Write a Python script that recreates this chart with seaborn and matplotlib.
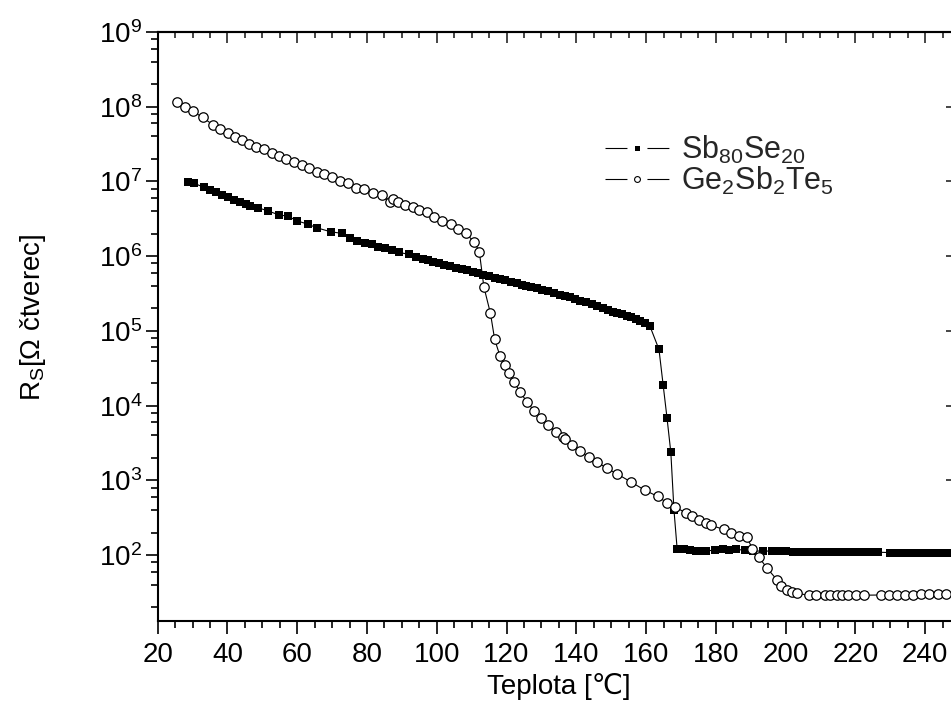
import matplotlib
matplotlib.use('Agg')
import matplotlib.pyplot as plt
import seaborn as sns
import pandas as pd
from matplotlib.ticker import MultipleLocator, LogLocator, NullFormatter
from matplotlib.lines import Line2D

# ---------------- data ----------------
sb_temp = [28.8, 30.5, 33.3, 35.0, 36.6, 38.3, 40.2, 41.9, 43.6, 45.3,
           46.5, 48.8, 51.7, 54.9, 57.4, 59.8, 63.0, 65.6, 69.6, 72.8,
           75.1, 77.2, 79.4, 81.3, 83.2, 85.2, 87.1, 89.3, 91.9, 94.1,
           96.0, 97.5, 99.0, 100.6, 102.2, 103.8, 105.4, 107.1, 108.8, 110.4,
           111.9, 113.3, 115.0, 116.6, 118.0, 119.5, 121.2, 122.9, 124.3, 125.7,
           127.1, 128.6, 130.2, 131.9, 133.6, 135.3, 136.7, 138.1, 139.5, 141.0,
           142.7, 144.4, 146.0, 147.7, 149.1, 150.5, 151.8, 153.0, 154.4, 155.8,
           157.0, 158.2, 159.8, 161.1, 163.7, 164.9, 166.0, 167.1, 168.0, 168.9,
           170.8, 172.5, 174.2, 175.7, 177.3, 179.7, 182.1, 183.8, 185.9, 188.3,
           190.7, 193.5, 196.2, 198.3, 200.2, 202.1, 204.2, 206.1, 208.3, 210.3,
           212.2, 214.4, 216.7, 218.9, 220.8, 222.7, 224.6, 226.5, 229.8, 231.8,
           233.7, 235.6, 237.5, 239.4, 241.5, 243.7, 245.6, 247.6]
sb_rs = [9.73e6, 9.42e6, 8.34e6, 7.67e6, 7.16e6, 6.58e6, 6.12e6, 5.64e6, 5.25e6, 4.98e6,
         4.73e6, 4.45e6, 4.02e6, 3.55e6, 3.44e6, 2.98e6, 2.69e6, 2.40e6, 2.12e6, 2.02e6,
         1.73e6, 1.59e6, 1.51e6, 1.44e6, 1.34e6, 1.27e6, 1.21e6, 1.12e6, 1.06e6, 9.82e5,
         9.23e5, 8.81e5, 8.41e5, 8.04e5, 7.67e5, 7.33e5, 7.03e5, 6.71e5, 6.46e5, 6.18e5,
         5.89e5, 5.58e5, 5.37e5, 5.14e5, 4.95e5, 4.79e5, 4.57e5, 4.33e5, 4.15e5, 3.98e5,
         3.85e5, 3.71e5, 3.55e5, 3.41e5, 3.20e5, 3.01e5, 2.90e5, 2.81e5, 2.66e5, 2.53e5,
         2.40e5, 2.29e5, 2.14e5, 2.00e5, 1.91e5, 1.80e5, 1.74e5, 1.66e5, 1.58e5, 1.52e5,
         1.45e5, 1.36e5, 1.26e5, 1.16e5, 5.65e4, 1.88e4, 6.87e3, 2.36e3, 399, 122,
         119, 116, 114, 114, 114, 116, 122, 116, 119, 116,
         112, 114, 112, 112, 112, 111, 111, 111, 111, 110,
         110, 110, 110, 110, 109, 109, 109, 109, 108, 108,
         108, 108, 107, 107, 107, 107, 107, 107]

ge_temp = [25.6, 27.8, 30.0, 32.9, 35.9, 38.0, 40.1, 42.1, 44.1, 46.2,
           48.3, 50.5, 52.7, 54.8, 56.9, 59.1, 61.3, 63.4, 65.6, 67.6,
           70.0, 72.2, 74.6, 76.8, 79.1, 81.6, 84.2, 86.5, 87.5, 88.9,
           90.9, 93.1, 95.0, 97.1, 99.3, 101.5, 104.0, 106.1, 108.3, 110.7,
           112.2, 113.5, 115.4, 116.6, 118.1, 119.5, 120.7, 122.2, 123.8, 125.9,
           127.9, 130.0, 131.9, 134.1, 136.2, 136.7, 138.9, 141.0, 143.5, 145.8,
           148.9, 151.8, 155.6, 159.6, 163.3, 166.0, 168.2, 171.4, 173.3, 175.2,
           177.1, 178.5, 182.3, 184.3, 186.6, 188.8, 190.5, 192.4, 194.7, 197.5,
           198.7, 200.5, 201.7, 203.4, 206.7, 208.8, 211.2, 212.8, 214.6, 216.3,
           217.9, 220.1, 222.4, 227.4, 229.6, 231.9, 234.1, 236.5, 238.9, 241.1,
           243.7, 245.9]
ge_rs = [1.17e8, 1.00e8, 8.71e7, 7.21e7, 5.69e7, 4.98e7, 4.41e7, 3.98e7, 3.58e7, 3.16e7,
         2.92e7, 2.69e7, 2.38e7, 2.19e7, 1.98e7, 1.80e7, 1.64e7, 1.50e7, 1.35e7, 1.26e7,
         1.14e7, 1.01e7, 9.44e6, 8.09e6, 7.83e6, 7.06e6, 6.58e6, 5.25e6, 5.81e6, 5.35e6,
         4.83e6, 4.50e6, 4.14e6, 3.85e6, 3.37e6, 2.98e6, 2.69e6, 2.29e6, 2.02e6, 1.56e6,
         1.15e6, 3.89e5, 1.71e5, 7.69e4, 4.65e4, 3.48e4, 2.70e4, 2.08e4, 1.53e4, 1.12e4,
         8.51e3, 6.75e3, 5.48e3, 4.46e3, 3.75e3, 3.53e3, 2.96e3, 2.48e3, 2.04e3, 1.77e3,
         1.44e3, 1.21e3, 955, 740, 610, 501, 442, 367, 332, 299,
         270, 251, 220, 198, 179, 175, 122, 92.9, 66.5, 46.8,
         38.0, 33.9, 32.4, 30.6, 29.0, 29.0, 29.0, 29.0, 29.0, 29.0,
         29.0, 29.0, 29.0, 29.2, 29.4, 29.5, 29.5, 29.6, 29.9, 30.1,
         30.2, 30.5]

series_labels = [r'Sb$_{80}$Se$_{20}$', r'Ge$_{2}$Sb$_{2}$Te$_{5}$']
x_label = 'Teplota [℃]'
y_label = r'R$_{S}$[Ω čtverec]'

# ---------------- style ----------------
sns.set_theme(style='ticks')
plt.rcParams['font.family'] = ['Liberation Sans', 'DejaVu Sans']
plt.rcParams['mathtext.fontset'] = 'custom'
plt.rcParams['mathtext.rm'] = 'Liberation Sans'
plt.rcParams['mathtext.it'] = 'Liberation Sans:italic'
plt.rcParams['mathtext.bf'] = 'Liberation Sans:bold'
plt.rcParams['mathtext.default'] = 'regular'
plt.rcParams['lines.scale_dashes'] = False

FS = 20
LFS = 22
fig = plt.figure(figsize=(9.51, 7.18), dpi=100)
ax = fig.add_axes([0.1658, 0.1351, 0.8437, 0.8203])

df_sb = pd.DataFrame({'T': sb_temp, 'R': sb_rs})
df_ge = pd.DataFrame({'T': ge_temp, 'R': ge_rs})

sns.lineplot(data=df_sb, x='T', y='R', ax=ax, color='black', lw=0.8,
             marker='s', markersize=5.8, mew=0, mfc='black',
             estimator=None, sort=False)
sns.lineplot(data=df_ge, x='T', y='R', ax=ax, color='black', lw=0.8,
             marker='o', markersize=6.8, mew=0.9, mec='black', mfc='white',
             estimator=None, sort=False)

ax.set_yscale('log')
ax.set_xlim(20, 250)
ax.set_ylim(13.1, 1e9)

ax.xaxis.set_major_locator(MultipleLocator(20))
ax.xaxis.set_minor_locator(MultipleLocator(5))
ax.yaxis.set_major_locator(LogLocator(base=10, numticks=20))
ax.yaxis.set_minor_locator(LogLocator(base=10, subs=[2, 4, 6, 8], numticks=20))
ax.yaxis.set_minor_formatter(NullFormatter())

for sp in ax.spines.values():
    sp.set_linewidth(1.5)
    sp.set_color('black')

ax.tick_params(which='major', direction='out', length=9, width=1.2,
               labelsize=FS, colors='black', top=False, right=False)
ax.tick_params(which='minor', direction='out', length=5, width=1.2,
               top=False, right=False, colors='black')
ax.tick_params(axis='x', which='major', pad=6)
ax.tick_params(axis='y', which='major', pad=2)

top = ax.secondary_xaxis('top')
top.xaxis.set_major_locator(MultipleLocator(20))
top.xaxis.set_minor_locator(MultipleLocator(5))
top.tick_params(which='major', direction='in', length=8, width=1.2, labeltop=False)
top.tick_params(which='minor', direction='in', length=4.5, width=1.2)
top.spines['top'].set_linewidth(1.5)

right = ax.secondary_yaxis('right')
right.yaxis.set_major_locator(LogLocator(base=10, numticks=20))
right.yaxis.set_minor_locator(LogLocator(base=10, subs=[2, 4, 6, 8], numticks=20))
right.tick_params(which='major', direction='in', length=10, width=1.2, labelright=False)
right.tick_params(which='minor', direction='in', length=4.5, width=1.2, labelright=False)
right.yaxis.set_minor_formatter(NullFormatter())

ax.set_xlabel(x_label, fontsize=FS, color='black')
ax.set_ylabel(y_label, fontsize=FS, color='black')
ax.xaxis.set_label_coords(0.5, -0.088)
ax.yaxis.set_label_coords(-0.137, 0.516)

dash = (0, (15.8, 14.4, 15.8, 40))
handles = [
    Line2D([], [], color='black', lw=0.8, ls=dash, marker='s', ms=3.6, mew=0, mfc='black'),
    Line2D([], [], color='black', lw=0.8, ls=dash, marker='o', ms=4.2, mew=0.8,
           mec='black', mfc='white'),
]
ax.legend(handles, series_labels, loc='upper left',
          bbox_to_anchor=(605 / 951, 1 - 134 / 718), bbox_transform=fig.transFigure,
          frameon=False, fontsize=LFS, handlelength=46.0 / LFS, handletextpad=0.4,
          labelspacing=-0.05, borderpad=0, borderaxespad=0)

fig.savefig('out.png', dpi=100, facecolor='white')
